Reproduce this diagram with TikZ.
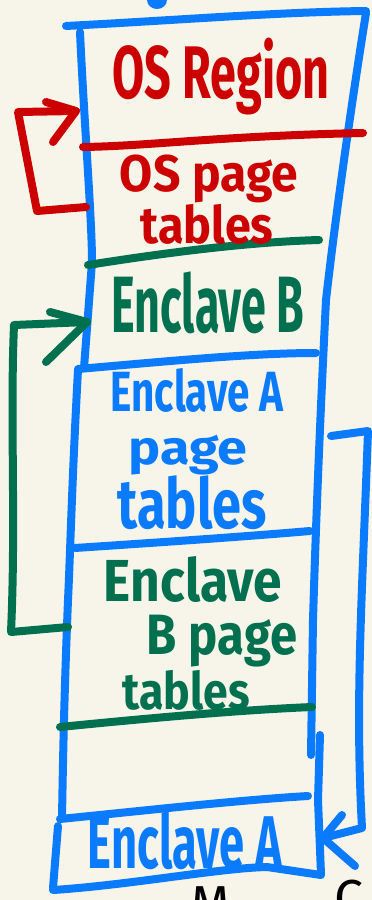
\documentclass[tikz,border=0pt]{standalone}
\usepackage{fontspec}
\setmainfont{Fira Sans}
\definecolor{paper}{HTML}{F7F5EA}
\definecolor{inkblue}{HTML}{0A7BFF}
\definecolor{inkred}{HTML}{CC0000}
\definecolor{inkgreen}{HTML}{00704F}
% lettering squeezed into a given ink box: width, total height, text
\newcommand{\hw}[3]{\resizebox*{#1pt}{#2pt}{\bfseries #3}}
\begin{document}
\begin{tikzpicture}[x=1pt,y=-1pt,
  pen/.style={line width=8pt, line cap=round, line join=round},
  bluepen/.style={pen, draw=inkblue},
  redpen/.style={pen, draw=inkred},
  greenpen/.style={pen, draw=inkgreen},
  label/.style={inner sep=0pt, outer sep=0pt}]
\fill[paper] (0,0) rectangle (372,900);
\useasboundingbox (0,0) rectangle (372,900);
\clip (0,0) rectangle (372,900);

% loop at the top edge
\fill[inkblue] (157,0) ellipse (10 and 9);

% memory column: outer walls
\draw[bluepen] (66,26) .. controls (180,20) and (280,12) .. (366,11);
\draw[bluepen] (366,13) .. controls (352,100) and (335,220) .. (326,300)
  .. controls (320,420) and (316,520) .. (313,620) -- (311,755);
\draw[bluepen] (320,735) -- (318,800) -- (321,874);
\draw[bluepen] (80,32) .. controls (84,120) and (92,220) .. (92,262) -- (84,368);
\draw[bluepen] (78,370) .. controls (72,480) and (70,560) .. (68,600)
  .. controls (64,700) and (63,760) .. (62,818);
\draw[bluepen] (58,826) -- (53,888);
\draw[bluepen] (53,890) .. controls (130,885) and (220,868) .. (267,867) -- (321,875);

% section dividers
\draw[redpen] (83,147) .. controls (150,146) and (220,136) .. (363,133);
\draw[greenpen] (88,265) .. controls (170,252) and (250,242) .. (319,240);
\draw[bluepen] (78,369) .. controls (160,362) and (250,353) .. (316,353);
\draw[bluepen] (75,548) .. controls (150,543) and (240,537) .. (310,531);
\draw[greenpen] (60,727) .. controls (150,718) and (240,710) .. (312,707);
\draw[bluepen] (60,819) .. controls (150,810) and (240,800) .. (308,796);

% section labels
\node[label, text=inkred]   (osreg)  at (221,77)  {\hw{217}{77}{OS Region}};
\node[label, text=inkred]   (ospt1)  at (209,179) {\hw{178}{48}{OS page}};
\node[label, text=inkred]   (ospt2)  at (207,224) {\hw{133}{40}{tables}};
\node[label, text=inkgreen] (encb)   at (208,303) {\hw{193}{62}{Enclave B}};
\node[label, text=inkblue]  (apt1)   at (197,390) {\hw{173}{44}{Enclave A}};
\node[label, text=inkblue]  (apt2)   at (188,455) {\hw{119}{40}{page}};
\node[label, text=inkblue]  (apt3)   at (192,503) {\hw{149}{54}{tables}};
\node[label, text=inkgreen] (bpt1)   at (193,579) {\hw{178}{46}{Enclave}};
\node[label, text=inkgreen] (bpt2)   at (222,641) {\hw{150}{52}{B page}};
\node[label, text=inkgreen] (bpt3)   at (186,690) {\hw{127}{40}{tables}};
\node[label, text=inkblue]  (enca)   at (185,841) {\hw{194}{58}{Enclave A}};

% caption running off the bottom edge
\node[label, anchor=north west, font=\fontsize{52}{52}\selectfont] (capM) at (190,887) {M};
\node[label, anchor=north west, font=\fontsize{52}{52}\selectfont] (capC) at (334,880) {C};

% page-table pointers
\coordinate (osTip) at (76,111);
\coordinate (osFrom) at (86,207);
\draw[redpen] (osFrom) -- (37,211) -- (18,112) -- (osTip);
\draw[redpen] (osTip) ++(-30,-9) -- (osTip) -- ++(-23,31);

\coordinate (bTip) at (87,322);
\coordinate (bFrom) at (68,627);
\draw[greenpen] (bFrom) -- (11,632) .. controls (16,520) and (10,420) .. (14,325) -- (bTip);
\draw[greenpen] (bTip) ++(-37,-10) -- (bTip) -- ++(-41,40);

\coordinate (aTip) at (323,838);
\coordinate (aFrom) at (331,436);
\draw[bluepen] (aFrom) -- (368,431) .. controls (362,600) and (355,700) .. (362,828) -- (aTip);
\draw[bluepen] (aTip) ++(19,-23) -- (aTip) -- ++(32,28);
\end{tikzpicture}
\end{document}
